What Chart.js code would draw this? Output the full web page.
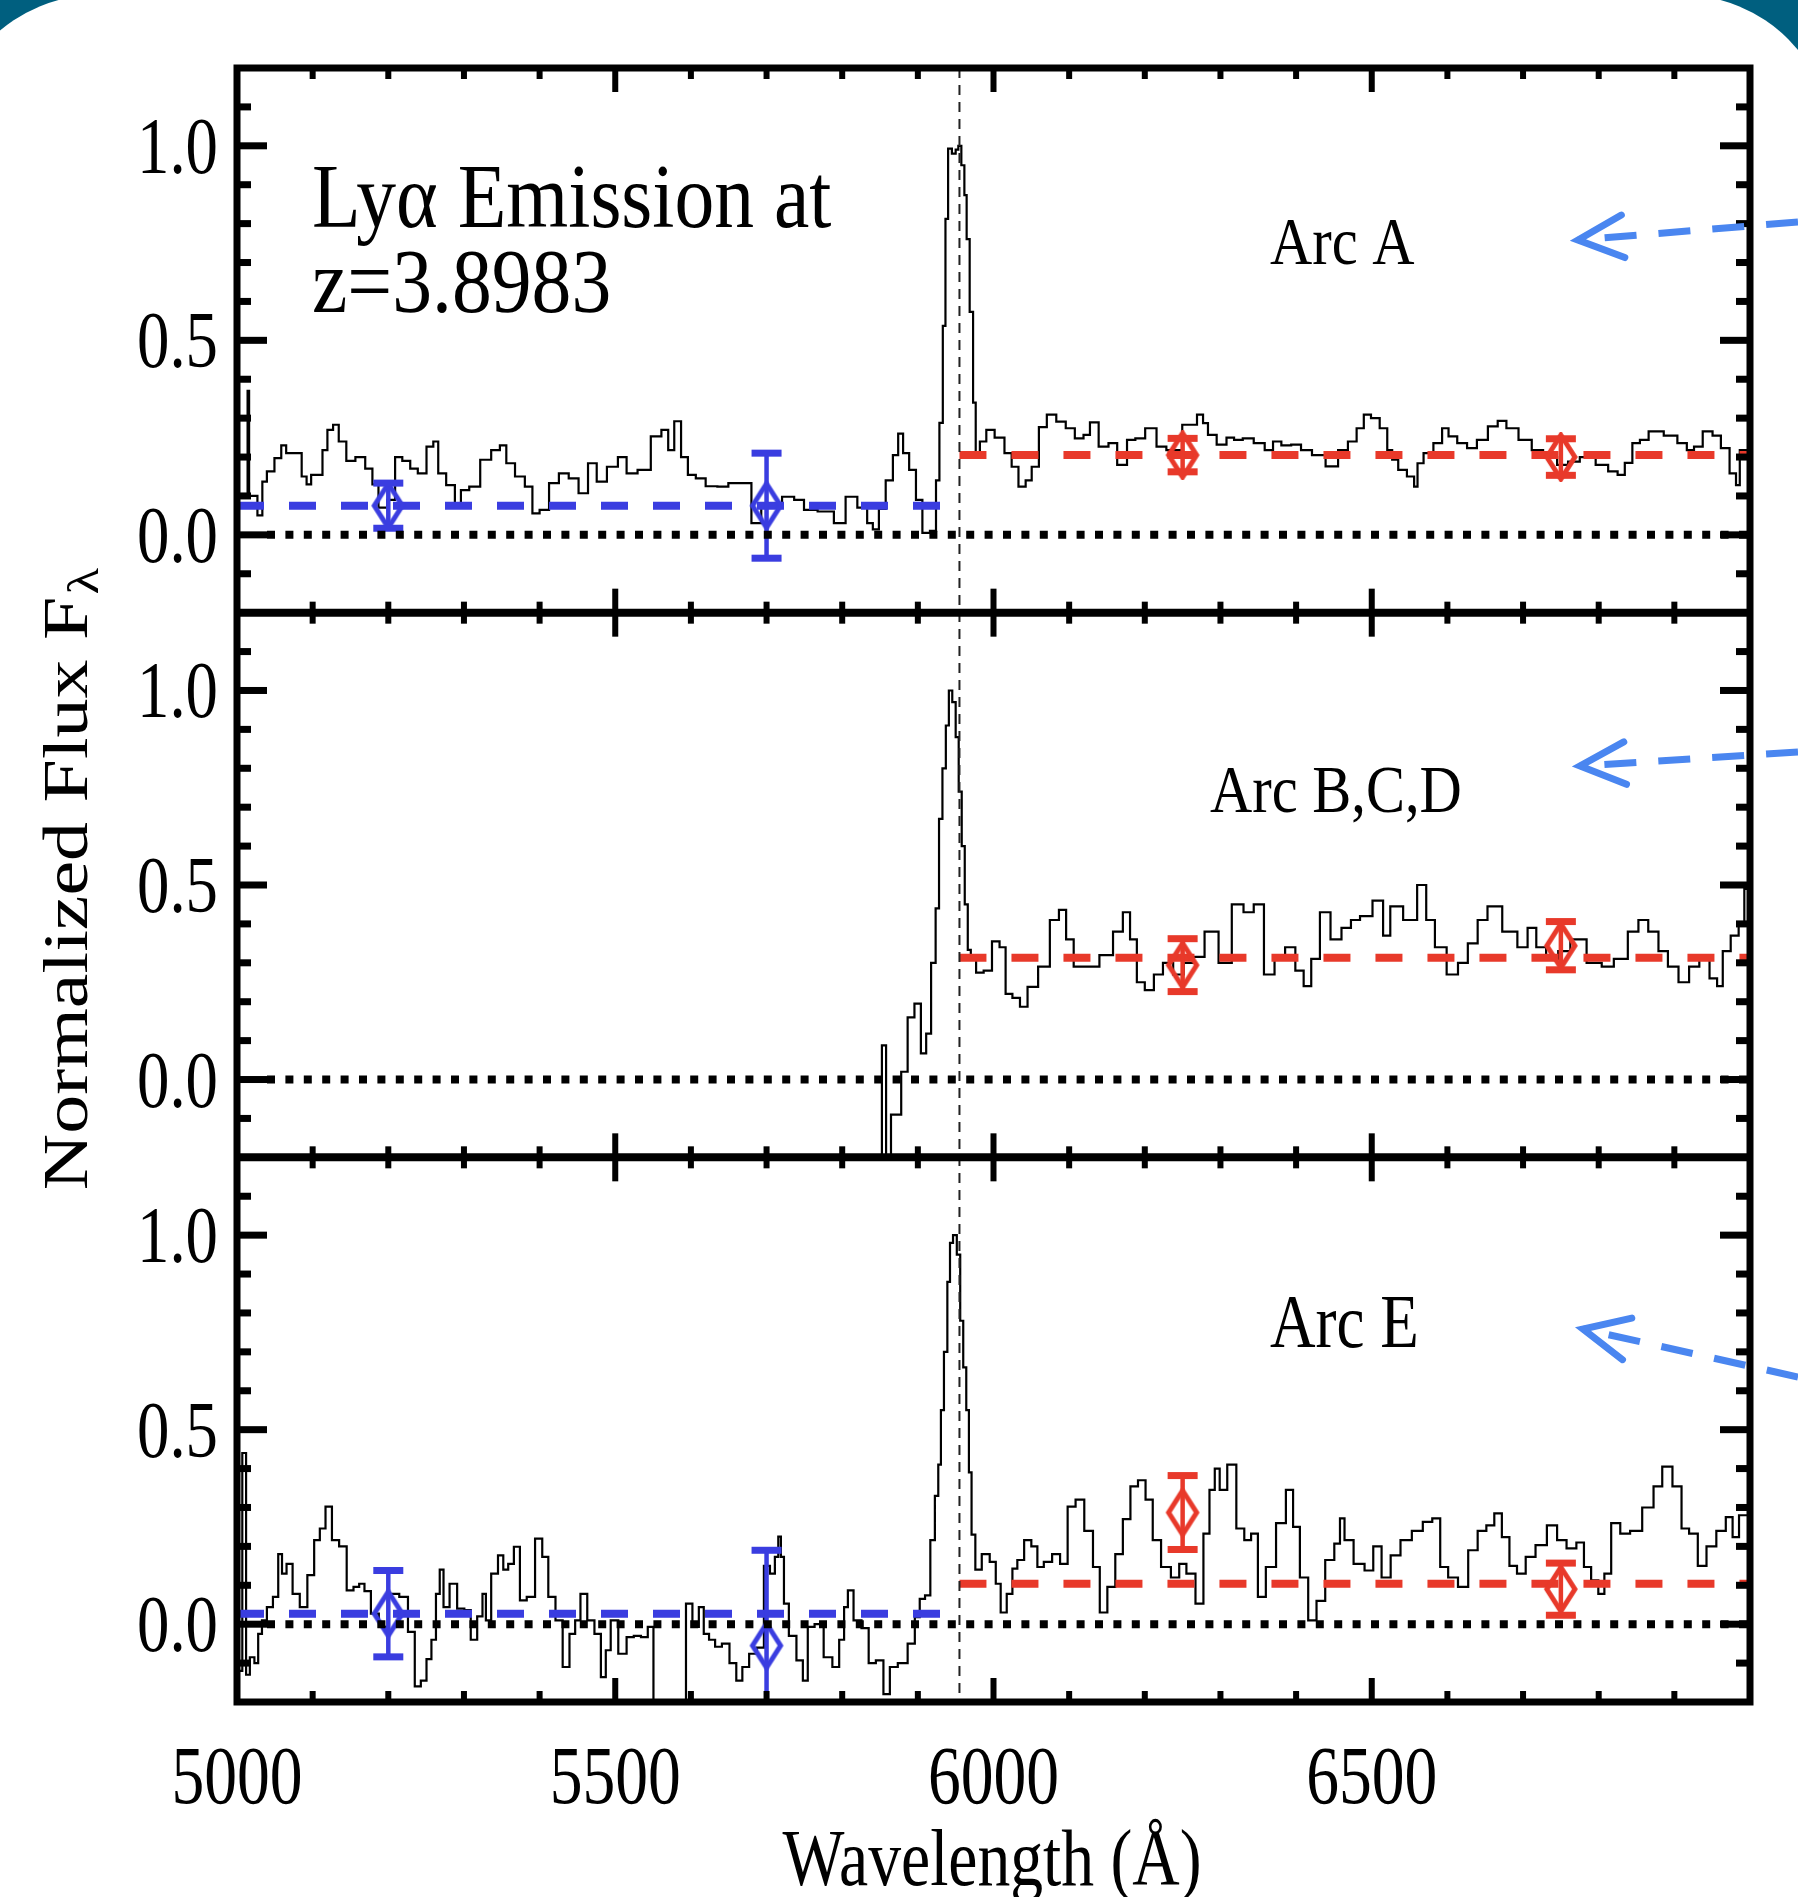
<!DOCTYPE html>
<html>
<head>
<meta charset="utf-8">
<script src="https://cdn.jsdelivr.net/npm/chart.js@4.4.1/dist/chart.umd.min.js"></script>
<style>
html, body { margin: 0; padding: 0; width: 1798px; height: 1897px; overflow: hidden; background: #005f7f; }
#card { position: absolute; left: -53px; top: -5px; width: 1885px; height: 2100px; background: #fff; border-radius: 150px; }
#wrap { position: absolute; left: 0; top: 0; width: 1798px; height: 1897px; }
</style>
</head>
<body>
<div id="card"></div>
<div id="wrap"><canvas id="spec" width="1798" height="1897"></canvas></div>
<script>
// spectra (wavelength in A, normalized flux)
const waveA = [5000, 5013, 5015, 5017, 5023, 5031, 5036, 5043, 5056, 5061,
  5069, 5082, 5089, 5095, 5101, 5111, 5115, 5124, 5130, 5139,
  5150, 5163, 5176, 5182, 5192, 5205, 5213, 5224, 5234, 5244,
  5257, 5262, 5270, 5283, 5293, 5299, 5315, 5328, 5344, 5351,
  5361, 5374, 5387, 5394, 5406, 5419, 5432, 5445, 5458, 5470,
  5481, 5497, 5510, 5520, 5539, 5555, 5567, 5573, 5583, 5591,
  5601, 5612, 5627, 5643, 5656, 5672, 5688, 5698, 5711, 5730,
  5743, 5756, 5779, 5799, 5810, 5830, 5836, 5845, 5852, 5863,
  5871, 5877, 5884, 5893, 5902, 5910, 5922, 5926, 5931, 5935,
  5938, 5942, 5948, 5952, 5955, 5960, 5963, 5966, 5971, 5975,
  5978, 5986, 5995, 6008, 6021, 6027, 6039, 6046, 6055, 6065,
  6076, 6090, 6101, 6114, 6124, 6131, 6147, 6157, 6170, 6183,
  6192, 6209, 6222, 6235, 6264, 6274, 6280, 6287, 6303, 6313,
  6323, 6336, 6352, 6365, 6374, 6387, 6400, 6413, 6429, 6449,
  6462, 6475, 6485, 6494, 6504, 6517, 6524, 6530, 6540, 6553,
  6559, 6562, 6575, 6588, 6598, 6605, 6621, 6631, 6647, 6660,
  6673, 6683, 6705, 6718, 6735, 6755, 6764, 6786, 6806, 6819,
  6831, 6838, 6851, 6858, 6874, 6898, 6910, 6923, 6929, 6946,
  6955, 6968, 6978, 6985, 6988, 7000];
const fluxA = [0.10, 0.10, 0.37, 0.10, 0.10, 0.05, 0.137, 0.163, 0.197, 0.23,
  0.21, 0.21, 0.15, 0.13, 0.154, 0.154, 0.218, 0.27, 0.283, 0.24,
  0.19, 0.20, 0.17, 0.13, 0.07, 0.09, 0.20, 0.19, 0.17, 0.158,
  0.227, 0.24, 0.158, 0.128, 0.081, 0.115, 0.124, 0.193, 0.218, 0.23,
  0.184, 0.15, 0.124, 0.055, 0.064, 0.133, 0.158, 0.145, 0.107, 0.184,
  0.137, 0.175, 0.20, 0.158, 0.167, 0.253, 0.27, 0.218, 0.292, 0.20,
  0.154, 0.145, 0.125, 0.124, 0.133, 0.133, 0.03, 0.07, 0.075, 0.098,
  0.09, 0.064, 0.06, 0.03, 0.098, 0.07, 0.03, 0.014, 0.067, 0.14,
  0.205, 0.26, 0.21, 0.167, 0.09, 0.005, 0.01, 0.14, 0.288, 0.537,
  0.812, 0.993, 0.98, 0.99, 1.0, 0.95, 0.873, 0.76, 0.573, 0.34,
  0.21, 0.24, 0.27, 0.25, 0.21, 0.175, 0.124, 0.14, 0.175, 0.277,
  0.309, 0.291, 0.274, 0.248, 0.257, 0.289, 0.227, 0.236, 0.18, 0.244,
  0.248, 0.274, 0.227, 0.218, 0.283, 0.309, 0.287, 0.257, 0.232, 0.25,
  0.244, 0.248, 0.236, 0.218, 0.24, 0.23, 0.232, 0.218, 0.205, 0.176,
  0.218, 0.24, 0.274, 0.309, 0.30, 0.274, 0.218, 0.193, 0.167, 0.15,
  0.124, 0.184, 0.21, 0.236, 0.274, 0.253, 0.236, 0.223, 0.244, 0.279,
  0.293, 0.274, 0.244, 0.218, 0.20, 0.18, 0.188, 0.20, 0.18, 0.163,
  0.154, 0.185, 0.236, 0.244, 0.266, 0.255, 0.236, 0.218, 0.227, 0.266,
  0.255, 0.223, 0.158, 0.128, 0.218, 0.218];

const waveB = [5850, 5855, 5861, 5868, 5874, 5882, 5891, 5900, 5908, 5914,
  5921, 5926, 5930, 5935, 5939, 5943, 5948, 5952, 5956, 5960,
  5964, 5968, 5972, 5982, 5992, 6004, 6012, 6020, 6030, 6040,
  6050, 6068, 6081, 6092, 6100, 6112, 6130, 6150, 6166, 6176,
  6185, 6194, 6206, 6218, 6230, 6245, 6258, 6270, 6288, 6307,
  6323, 6338, 6350, 6365, 6378, 6393, 6405, 6415, 6425, 6438,
  6453, 6467, 6478, 6491, 6511, 6519, 6530, 6553, 6567, 6577,
  6590, 6608, 6620, 6634, 6646, 6660, 6685, 6700, 6712, 6723,
  6738, 6755, 6770, 6798, 6810, 6830, 6847, 6858, 6873, 6885,
  6898, 6913, 6926, 6940, 6953, 6960, 6968, 6981, 6989, 6996,
  7000];
const fluxB = [-0.35, 0.088, -0.35, -0.09, -0.09, 0.02, 0.16, 0.195, 0.067, 0.118,
  0.30, 0.44, 0.67, 0.80, 0.91, 1.0, 0.97, 0.88, 0.74, 0.60,
  0.45, 0.333, 0.31, 0.275, 0.28, 0.355, 0.34, 0.22, 0.21, 0.187,
  0.238, 0.29, 0.41, 0.436, 0.36, 0.29, 0.29, 0.32, 0.38, 0.43,
  0.36, 0.25, 0.23, 0.27, 0.30, 0.27, 0.30, 0.315, 0.38, 0.30,
  0.45, 0.43, 0.45, 0.27, 0.31, 0.34, 0.28, 0.24, 0.31, 0.43,
  0.36, 0.39, 0.41, 0.42, 0.46, 0.37, 0.445, 0.41, 0.50, 0.41,
  0.34, 0.27, 0.30, 0.35, 0.41, 0.445, 0.38, 0.34, 0.39, 0.34,
  0.31, 0.33, 0.36, 0.30, 0.29, 0.31, 0.38, 0.41, 0.38, 0.33,
  0.29, 0.25, 0.29, 0.32, 0.26, 0.24, 0.33, 0.37, 0.40, 0.49,
  0.50];

const waveC = [5000, 5004, 5010, 5014, 5020, 5026, 5030, 5036, 5043, 5052,
  5057, 5062, 5069, 5078, 5088, 5098, 5106, 5113, 5121, 5130,
  5140, 5150, 5158, 5165, 5172, 5182, 5193, 5208, 5221, 5231,
  5239, 5247, 5254, 5260, 5266, 5270, 5276, 5286, 5296, 5305,
  5313, 5322, 5327, 5331, 5341, 5349, 5355, 5362, 5370, 5378,
  5388, 5400, 5407, 5416, 5426, 5435, 5444, 5450, 5458, 5468,
  5477, 5485, 5490, 5498, 5510, 5520, 5529, 5539, 5547, 5554,
  5590, 5597, 5607, 5614, 5620, 5628, 5636, 5646, 5656, 5664,
  5672, 5682, 5692, 5701, 5708, 5714, 5717, 5721, 5725, 5734,
  5745, 5751, 5758, 5769, 5782, 5792, 5800, 5805, 5810, 5820,
  5831, 5839, 5850, 5859, 5867, 5880, 5893, 5899, 5906, 5913,
  5920, 5925, 5929, 5932, 5937, 5941, 5944, 5949, 5954, 5958,
  5962, 5966, 5969, 5973, 5979, 5990, 6000, 6006, 6013, 6022,
  6028, 6035, 6046, 6054, 6062, 6071, 6084, 6092, 6104, 6113,
  6127, 6136, 6145, 6156, 6166, 6176, 6186, 6196, 6206, 6215,
  6228, 6241, 6250, 6260, 6274, 6281, 6290, 6295, 6303, 6315,
  6327, 6336, 6345, 6354, 6366, 6381, 6392, 6400, 6410, 6422,
  6432, 6445, 6456, 6460, 6468, 6484, 6497, 6507, 6519, 6531,
  6545, 6561, 6574, 6586, 6595, 6607, 6621, 6634, 6646, 6657,
  6667, 6677, 6687, 6697, 6710, 6723, 6740, 6750, 6765, 6776,
  6785, 6795, 6804, 6811, 6822, 6835, 6848, 6867, 6878, 6890,
  6905, 6914, 6925, 6937, 6948, 6963, 6973, 6981, 6990, 7000];
const fluxC = [-0.12, -0.12, 0.44, -0.13, -0.085, -0.10, -0.025, 0.01, 0.044, 0.07,
  0.18, 0.13, 0.155, 0.078, 0.044, 0.126, 0.216, 0.246, 0.302, 0.216,
  0.20, 0.087, 0.096, 0.104, 0.085, 0.027, -0.007, 0.078, 0.07, -0.02,
  -0.16, -0.145, -0.09, -0.04, 0.078, 0.14, 0.044, 0.104, 0.04, 0.036,
  -0.04, 0.02, 0.078, 0.01, 0.13, 0.177, 0.14, 0.155, 0.199, 0.061,
  0.07, 0.22, 0.173, 0.07, 0.01, -0.11, -0.025, 0.01, 0.078, 0.01,
  -0.025, -0.136, -0.067, 0.01, -0.076, -0.033, -0.03, -0.033, -0.007, -0.35,
  -0.35, 0.053, -0.007, 0.044, -0.025, -0.04, -0.058, -0.05, -0.10, -0.145,
  -0.11, -0.076, -0.06, 0.15, 0.13, 0.173, 0.225, 0.173, 0.053, -0.03,
  -0.093, -0.145, -0.007, 0.0, -0.085, -0.11, -0.04, 0.044, 0.087, 0.01,
  -0.01, -0.10, -0.093, -0.18, -0.11, -0.10, -0.05, 0.018, 0.065, 0.074,
  0.216, 0.33, 0.41, 0.55, 0.70, 0.88, 0.98, 1.0, 0.95, 0.78,
  0.66, 0.55, 0.39, 0.23, 0.14, 0.18, 0.16, 0.104, 0.03, 0.078,
  0.143, 0.165, 0.216, 0.20, 0.147, 0.16, 0.18, 0.155, 0.302, 0.32,
  0.24, 0.147, 0.03, 0.096, 0.18, 0.27, 0.354, 0.37, 0.32, 0.216,
  0.147, 0.12, 0.155, 0.13, 0.053, 0.233, 0.345, 0.40, 0.345, 0.41,
  0.246, 0.216, 0.233, 0.07, 0.147, 0.26, 0.345, 0.25, 0.12, 0.01,
  0.06, 0.165, 0.207, 0.272, 0.216, 0.155, 0.138, 0.20, 0.12, 0.177,
  0.216, 0.24, 0.263, 0.272, 0.147, 0.12, 0.096, 0.19, 0.24, 0.254,
  0.285, 0.224, 0.15, 0.13, 0.173, 0.203, 0.254, 0.216, 0.195, 0.21,
  0.147, 0.113, 0.078, 0.13, 0.26, 0.233, 0.24, 0.30, 0.354, 0.405,
  0.354, 0.246, 0.233, 0.15, 0.20, 0.24, 0.275, 0.224, 0.28, 0.28];

// continuum levels (blue side / red side of Lya), per panel A, B, C
const blueLevelWave = [5000, 5935];
const redLevelWave = [5955, 7000];
const blueLevel = [0.075, null, 0.027];
const redLevel = [0.205, 0.313, 0.104];

// binned points with error bars
const blueWave = [5200, 5700];
const redWave = [6250, 6750];
const bluePtA = [0.075, 0.075], blueErrA = [0.058, 0.135];
const redPtA = [0.205, 0.200], redErrA = [0.043, 0.047];
const redPtB = [0.294, 0.344], redErrB = [0.068, 0.062];
const bluePtC = [0.027, -0.055], blueErrC = [0.111, 0.245];
const redPtC = [0.287, 0.090], redErrC = [0.095, 0.067];

const lyaWave = 5955;
const panelLabels = ['Arc A', 'Arc B,C,D', 'Arc E'];
const xTickValues = [5000, 5100, 5200, 5300, 5400, 5500, 5600, 5700, 5800, 5900, 6000,
  6100, 6200, 6300, 6400, 6500, 6600, 6700, 6800, 6900, 7000];
const xTickLabels = [5000, 5500, 6000, 6500];
const yTickValues = [-0.1, 0, 0.1, 0.2, 0.3, 0.4, 0.5, 0.6, 0.7, 0.8, 0.9, 1.0, 1.1];
const yTickLabels = [0, 0.5, 1.0];

const BLUE = '#3a3de0';
const RED = '#e8392a';
const SERIF = '"Liberation Serif", "Times New Roman", serif';

function diamond(color) {
  const c = document.createElement('canvas');
  c.width = 36; c.height = 50;
  const g = c.getContext('2d');
  g.strokeStyle = color;
  g.lineWidth = 5;
  g.beginPath();
  g.moveTo(18, 3); g.lineTo(32, 25); g.lineTo(18, 47); g.lineTo(4, 25);
  g.closePath();
  g.stroke();
  return c;
}
const blueDiamond = diamond(BLUE);
const redDiamond = diamond(RED);

const xy = (xs, ys) => xs.map((x, i) => ({x: x, y: ys[i]}));

function spectrum(wave, flux, axis) {
  return {data: xy(wave, flux), yAxisID: axis, borderColor: '#000', borderWidth: 2.2,
    stepped: 'middle', pointRadius: 0, fill: false, order: 3};
}
function level(wave, value, color, axis) {
  return {data: xy(wave, wave.map(() => value)), yAxisID: axis, borderColor: color,
    borderWidth: 8, borderDash: [27, 25], borderCapStyle: 'butt', pointRadius: 0, fill: false, order: 2};
}
function points(wave, vals, errs, color, img, axis) {
  return {data: xy(wave, vals), errors: errs, yAxisID: axis, borderColor: color, showLine: false,
    pointStyle: img, pointRadius: 12, order: 1};
}

function panelScale() {
  return {
    type: 'linear', position: 'left', stack: 'panels', stackWeight: 1,
    min: -0.2, max: 1.2,
    grid: {display: false, drawTicks: false}, border: {display: false},
    ticks: {display: false},
    afterFit: s => { s.width = 237; }
  };
}

function squeezeText(ctx, text, x, y, size, align, sx) {
  ctx.save();
  ctx.translate(x, y);
  ctx.scale(sx || 0.8, 1);
  ctx.font = size + 'px ' + SERIF;
  ctx.textAlign = align || 'left';
  ctx.textBaseline = 'alphabetic';
  ctx.fillText(text, 0, 0);
  ctx.restore();
}

function drawArrow(ctx, x0, y0, x1, y1) {
  ctx.save();
  ctx.strokeStyle = '#4a86f0';
  ctx.lineWidth = 7;
  ctx.setLineDash([32, 22]);
  ctx.lineCap = 'butt';
  ctx.beginPath();
  ctx.moveTo(x0, y0); ctx.lineTo(x1, y1);
  ctx.stroke();
  ctx.setLineDash([]);
  ctx.lineCap = 'round';
  const a = Math.atan2(y0 - y1, x0 - x1);
  ctx.beginPath();
  ctx.moveTo(x1 + 50 * Math.cos(a - 0.44), y1 + 50 * Math.sin(a - 0.44));
  ctx.lineTo(x1, y1);
  ctx.lineTo(x1 + 50 * Math.cos(a + 0.44), y1 + 50 * Math.sin(a + 0.44));
  ctx.stroke();
  ctx.restore();
}

const decorations = {
  id: 'decorations',
  afterDatasetsDraw(chart) {
    const ctx = chart.ctx;
    const xs = chart.scales.x;
    // error bars
    chart.data.datasets.forEach(ds => {
      if (!ds.errors) return;
      const ys = chart.scales[ds.yAxisID];
      ctx.save();
      ctx.beginPath();
      ctx.rect(xs.left, ys.top, xs.width, ys.height);
      ctx.clip();
      ctx.strokeStyle = ds.borderColor;
      ctx.fillStyle = ds.borderColor;
      ctx.lineWidth = 4.5;
      ds.data.forEach((p, k) => {
        const px = xs.getPixelForValue(p.x);
        const hi = ys.getPixelForValue(p.y + ds.errors[k]);
        const lo = ys.getPixelForValue(p.y - ds.errors[k]);
        ctx.beginPath(); ctx.moveTo(px, hi); ctx.lineTo(px, lo); ctx.stroke();
        ctx.fillRect(px - 15, hi - 3.5, 30, 7);
        ctx.fillRect(px - 15, lo - 3.5, 30, 7);
      });
      ctx.restore();
    });
  },
  afterDraw(chart) {
    const ctx = chart.ctx;
    const xs = chart.scales.x;
    const L = xs.left, R = xs.right;
    const ids = ['yA', 'yB', 'yC'];
    ctx.save();
    // zero lines
    ids.forEach(id => {
      const ys = chart.scales[id];
      const py = ys.getPixelForValue(0);
      ctx.strokeStyle = '#000';
      ctx.lineWidth = 8;
      ctx.setLineDash([8, 10.4]);
      ctx.beginPath(); ctx.moveTo(L + 30, py); ctx.lineTo(R, py); ctx.stroke();
    });
    // Lya line
    const lx = xs.getPixelForValue(lyaWave);
    ctx.lineWidth = 2;
    ctx.setLineDash([10, 7]);
    ctx.strokeStyle = '#222';
    ctx.beginPath(); ctx.moveTo(lx, chart.chartArea.top); ctx.lineTo(lx, chart.chartArea.bottom); ctx.stroke();
    ctx.setLineDash([]);
    // ticks
    ctx.fillStyle = '#000';
    ids.forEach(id => {
      const ys = chart.scales[id];
      xTickValues.forEach(w => {
        const px = xs.getPixelForValue(w);
        const len = w % 500 === 0 ? 24 : 11;
        ctx.fillRect(px - 3, ys.top, 6, len);
        ctx.fillRect(px - 3, ys.bottom - len, 6, len);
      });
      yTickValues.forEach(v => {
        const py = ys.getPixelForValue(v);
        const len = Math.abs(v * 2 - Math.round(v * 2)) < 1e-6 ? 30 : 14;
        ctx.fillRect(L, py - 3.5, len, 7);
        ctx.fillRect(R - len, py - 3.5, len, 7);
      });
      yTickLabels.forEach(v => {
        squeezeText(ctx, v.toFixed(1), 218, ys.getPixelForValue(v) + 27, 81, 'right');
      });
    });
    // frame
    const ca = chart.chartArea;
    ctx.strokeStyle = '#000';
    ctx.lineWidth = 7;
    ctx.strokeRect(L, ca.top, R - L, ca.bottom - ca.top);
    ctx.lineWidth = 8;
    ['yB', 'yC'].forEach(id => {
      const t = chart.scales[id].top;
      ctx.beginPath(); ctx.moveTo(L, t); ctx.lineTo(R, t); ctx.stroke();
    });
    // x tick labels
    xTickLabels.forEach(w => squeezeText(ctx, String(w), xs.getPixelForValue(w), 1803, 82, 'center'));
    // titles
    squeezeText(ctx, 'Wavelength (\u00c5)', 992, 1885, 80, 'center', 0.82);
    ctx.save();
    ctx.translate(87, 880);
    ctx.scale(0.8, 1);
    ctx.rotate(-Math.PI / 2);
    ctx.textAlign = 'left';
    ctx.textBaseline = 'alphabetic';
    ctx.font = '78px ' + SERIF;
    const main = 'Normalized Flux F';
    const w1 = ctx.measureText(main).width;
    ctx.font = '55px ' + SERIF;
    const w2 = ctx.measureText('\u03bb').width;
    const start = -(w1 + w2) / 2;
    ctx.font = '78px ' + SERIF;
    ctx.fillText(main, start, 0);
    ctx.font = '55px ' + SERIF;
    ctx.fillText('\u03bb', start + w1 + 2, 14);
    ctx.restore();
    // annotations
    squeezeText(ctx, 'Ly\u03b1 Emission at', 312, 227, 91, 'left', 0.875);
    squeezeText(ctx, 'z=3.8983', 312, 312, 91, 'left', 0.875);
    squeezeText(ctx, panelLabels[0], 1270, 264, 68, 'left', 0.86);
    squeezeText(ctx, panelLabels[1], 1210, 812, 68, 'left', 0.86);
    squeezeText(ctx, panelLabels[2], 1270, 1347, 76, 'left', 0.83);
    ctx.restore();
    // arrows pointing at the arc labels
    drawArrow(ctx, 1798, 222, 1578, 240);
    drawArrow(ctx, 1798, 752, 1580, 766);
    drawArrow(ctx, 1798, 1377, 1583, 1329);
  }
};

const datasets = [
  points(blueWave, bluePtA, blueErrA, BLUE, blueDiamond, 'yA'),
  points(redWave, redPtA, redErrA, RED, redDiamond, 'yA'),
  points(redWave, redPtB, redErrB, RED, redDiamond, 'yB'),
  points(blueWave, bluePtC, blueErrC, BLUE, blueDiamond, 'yC'),
  points(redWave, redPtC, redErrC, RED, redDiamond, 'yC'),
  level(blueLevelWave, blueLevel[0], BLUE, 'yA'),
  level(redLevelWave, redLevel[0], RED, 'yA'),
  level(redLevelWave, redLevel[1], RED, 'yB'),
  level(blueLevelWave, blueLevel[2], BLUE, 'yC'),
  level(redLevelWave, redLevel[2], RED, 'yC'),
  spectrum(waveA, fluxA, 'yA'),
  spectrum(waveB, fluxB, 'yB'),
  spectrum(waveC, fluxC, 'yC')
];

new Chart(document.getElementById('spec'), {
  type: 'line',
  data: {datasets: datasets},
  options: {
    responsive: false,
    animation: false,
    devicePixelRatio: 1,
    events: [],
    layout: {padding: {top: 68, right: 48, left: 0, bottom: 0}},
    plugins: {legend: {display: false}, tooltip: {enabled: false}},
    scales: {
      x: {
        type: 'linear', min: 5000, max: 7000,
        grid: {display: false}, border: {display: false}, ticks: {display: false},
        afterFit: s => { s.height = 195; }
      },
      yC: panelScale(),
      yB: panelScale(),
      yA: panelScale()
    }
  },
  plugins: [decorations]
});
</script>
</body>
</html>
